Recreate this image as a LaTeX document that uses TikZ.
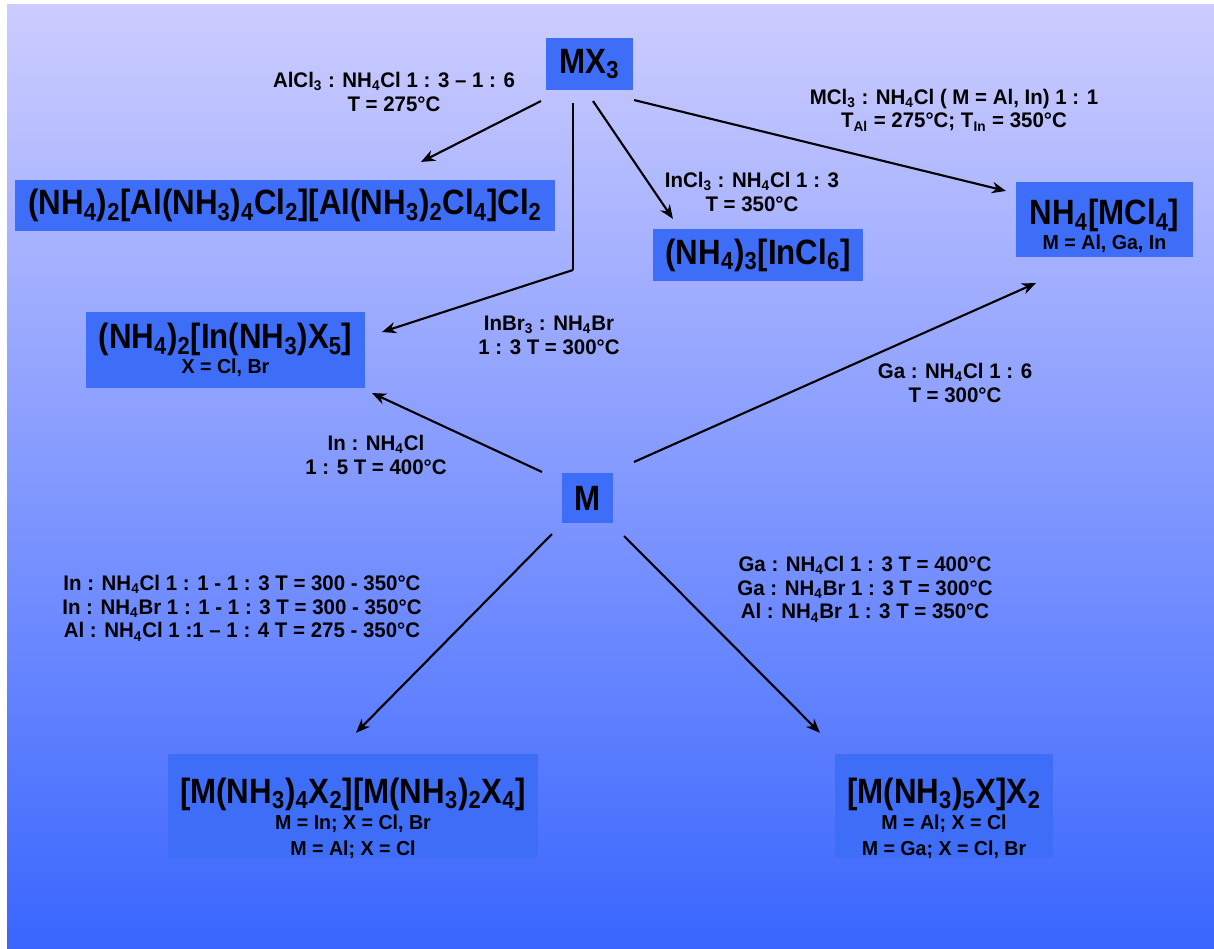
\documentclass[tikz,border=0pt]{standalone}
\usepackage{fontspec}
\setmainfont{Liberation Sans}
\newfontfamily\titlefont{Liberation Sans}[FakeStretch=0.89]
\newfontfamily\labelfont{Liberation Sans}[FakeStretch=0.97]
\usepackage{tikz}
\usetikzlibrary{arrows.meta,positioning}
\definecolor{boxblue}{RGB}{62,110,248}
\definecolor{topblue}{RGB}{204,204,255}
\definecolor{botblue}{RGB}{58,102,255}
\newcommand{\lo}[1]{\textsubscript{#1}}
\newcommand{\notefont}{\labelfont\bfseries\fontsize{11.5}{13}\selectfont}

\begin{document}
\begin{tikzpicture}[x=0.02cm,y=-0.02cm,->,>={Stealth[length=8pt,width=6.5pt]},line width=1.2pt,
	boxnode/.style={rectangle,fill=boxblue,inner sep=0pt,align=center,font=\titlefont\bfseries\fontsize{20}{14}\selectfont},
	tallbox/.style={boxnode,font=\titlefont\bfseries\fontsize{20}{14.8}\selectfont},
	labelnode/.style={align=center,inner sep=0pt,font=\labelfont\bfseries\fontsize{12}{13.6}\selectfont}]
	
	\useasboundingbox (0,0) rectangle (1214,949);
	\shade[-,top color=topblue,bottom color=botblue] (7,5) rectangle (1214,949);
	
	\node [boxnode,minimum width=87*0.02cm,minimum height=52*0.02cm] (mx) at (589.5, 64) {MX\lo{3}};
	\node [boxnode,minimum width=540*0.02cm,minimum height=51*0.02cm] (alc) at (285, 205.5) {(NH\lo{4})\lo{2}[Al(NH\lo{3})\lo{4}Cl\lo{2}][Al(NH\lo{3})\lo{2}Cl\lo{4}]Cl\lo{2}};
	\node [boxnode,minimum width=210*0.02cm,minimum height=52*0.02cm] (incl) at (758, 255) {(NH\lo{4})\lo{3}[InCl\lo{6}]};
	\node [boxnode,minimum width=177*0.02cm,minimum height=75*0.02cm] (mcl) at (1104.5, 219.5) {\rule{0pt}{22pt}NH\lo{4}[MCl\lo{4}]\\{\notefont M = Al, Ga, In}};
	\node [boxnode,minimum width=279*0.02cm,minimum height=76*0.02cm] (inx) at (225.5, 350) {(NH\lo{4})\lo{2}[In(NH\lo{3})X\lo{5}]\\{\notefont X = Cl, Br}};
	\node [boxnode,minimum width=51*0.02cm,minimum height=50*0.02cm] (m) at (587.5, 498) {M};
	\node [tallbox,minimum width=370*0.02cm,minimum height=102*0.02cm] (mxx) at (353, 806) {\rule{0pt}{28pt}[M(NH\lo{3})\lo{4}X\lo{2}][M(NH\lo{3})\lo{2}X\lo{4}]\\{\notefont M = In; X = Cl, Br}\\{\notefont M = Al; X = Cl}};
	\node [tallbox,minimum width=218*0.02cm,minimum height=102*0.02cm] (mx5) at (944, 806) {\rule{0pt}{28pt}[M(NH\lo{3})\lo{5}X]X\lo{2}\\{\notefont M = Al; X = Cl}\\{\notefont M = Ga; X = Cl, Br}};
	
	\node [labelnode] (alcl) at (394, 92) {AlCl\lo{3} : NH\lo{4}Cl 1 : 3 – 1 : 6\\T = 275°C};
	\node [labelnode] (mcll) at (954, 110) {MCl\lo{3} : NH\lo{4}Cl ( M = Al, In) 1 : 1\\T\lo{Al} = 275°C; T\lo{In} = 350°C};
	\node [labelnode] (incll) at (752, 192) {InCl\lo{3} : NH\lo{4}Cl 1 : 3\\T = 350°C};
	\node [labelnode] (inbrl) at (549, 335) {InBr\lo{3} : NH\lo{4}Br\\1 : 3 T = 300°C};
	\node [labelnode] (gal) at (955, 383) {Ga : NH\lo{4}Cl 1 : 6\\T = 300°C};
	\node [labelnode] (inl) at (376, 455) {In : NH\lo{4}Cl\\1 : 5 T = 400°C};
	\node [labelnode] (leftl) at (242, 608) {In : NH\lo{4}Cl 1 : 1 - 1 : 3 T = 300 - 350°C\\In : NH\lo{4}Br 1 : 1 - 1 : 3 T = 300 - 350°C\\Al : NH\lo{4}Cl 1 :1 – 1 : 4 T = 275 - 350°C};
	\node [labelnode] (rightl) at (865, 589) {Ga : NH\lo{4}Cl 1 : 3 T = 400°C\\Ga : NH\lo{4}Br 1 : 3 T = 300°C\\Al : NH\lo{4}Br 1 : 3 T = 350°C};
	
	\coordinate (kink) at (573, 270);
	
	\draw ([shift={(-4,10)}]mx.south west) to ([shift={(136,-17)}]alc.north);
	\draw[-] ([shift={(-16.5,12)}]mx.south) to (kink);
	\draw (kink) to ([shift={(16,-18)}]inx.east);
	\draw ([shift={(3.5,10)}]mx.south) to ([shift={(21,-9)}]incl.north west);
	\draw ([shift={(0,9)}]mx.south east) to ([shift={(-9,10)}]mcl.north west);
	\draw ([shift={(-19,0)}]m.north west) to ([shift={(6,4)}]inx.south east);
	\draw ([shift={(20,-10)}]m.north east) to ([shift={(21,25)}]mcl.south west);
	\draw ([shift={(-9,10)}]m.south west) to ([shift={(3,-20)}]mxx.north);
	\draw ([shift={(10,12)}]m.south east) to ([shift={(-14,-20)}]mx5.north west);
\end{tikzpicture}
\end{document}
